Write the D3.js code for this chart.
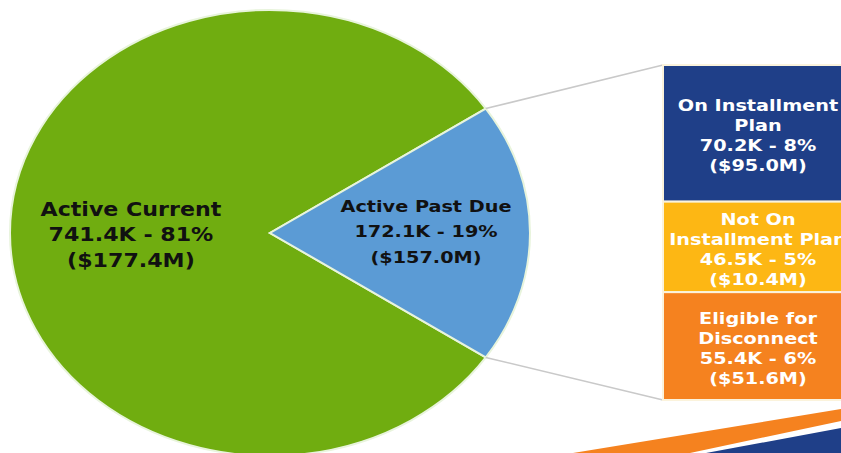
<!DOCTYPE html>
<html>
<head>
<meta charset="utf-8">
<script src="https://cdn.jsdelivr.net/npm/d3@7"></script>
<style>
  html, body { margin: 0; padding: 0; background: #fff; }
  svg { display: block; font-family: "DejaVu Sans", Verdana, sans-serif; font-weight: bold; }
</style>
</head>
<body>
<svg id="chart" width="841" height="453"></svg>
<script>
// pie slices
var pieLabels = ["Active Current", "Active Past Due"];
var pieCounts = [741.4, 172.1];      // thousands of accounts
var piePct = ["81%", "19%"];
var pieDollars = ["$177.4M", "$157.0M"];
var pieColors = ["#70ad10", "#5b9bd5"];

// breakdown of "Active Past Due"
var barLabels = [["On Installment", "Plan"], ["Not On", "Installment Plan"], ["Eligible for", "Disconnect"]];
var barCounts = [70.2, 46.5, 55.4];
var barPct = ["8%", "5%", "6%"];
var barDollars = ["$95.0M", "$10.4M", "$51.6M"];
var barColors = ["#1f3f88", "#fdb714", "#f5821f"];

var svg = d3.select("#chart");

// the whole slide was stretched sideways, pie and text alike
var cx = 270, cy = 233, ry = 223, rx = 260;
var sx = rx / ry;

var total = d3.sum(pieCounts);
var halfPast = pieCounts[1] / total * Math.PI;   // half the past-due angle
var a0 = Math.PI / 2 + halfPast;

var pie = d3.pie().sort(null).startAngle(a0).endAngle(a0 + 2 * Math.PI);
var arcs = pie(pieCounts);
var arc = d3.arc().innerRadius(0).outerRadius(ry);

var pieG = svg.append("g").attr("transform", "translate(" + cx + "," + cy + ") scale(" + sx + ",1)");
pieG.selectAll("path")
  .data(arcs)
  .enter().append("path")
  .attr("d", arc)
  .attr("fill", function(d, i) { return pieColors[i]; })
  .attr("stroke", "#e8f4dc")
  .attr("stroke-width", 2)
  .attr("vector-effect", "non-scaling-stroke");

// bar on the right
var barX0 = 663, barX1 = 855;
var y = d3.scaleLinear().domain([0, d3.sum(barCounts)]).range([65, 400]);
var stackTop = [];
var acc = 0;
barCounts.forEach(function(v) { stackTop.push(acc); acc += v; });

// connector lines from the slice edges to the bar corners
function edgePoint(a) {
  return [cx + rx * Math.sin(a), cy - ry * Math.cos(a)];
}
var pTop = edgePoint(arcs[1].startAngle);
var pBot = edgePoint(arcs[1].endAngle);
svg.append("line")
  .attr("x1", pTop[0]).attr("y1", pTop[1])
  .attr("x2", barX0).attr("y2", y(0))
  .attr("stroke", "#c9c9c9").attr("stroke-width", 1.5);
svg.append("line")
  .attr("x1", pBot[0]).attr("y1", pBot[1])
  .attr("x2", barX0).attr("y2", y(acc))
  .attr("stroke", "#c9c9c9").attr("stroke-width", 1.5);

var seg = svg.selectAll("g.seg")
  .data(barCounts)
  .enter().append("g")
  .attr("class", "seg");

seg.append("rect")
  .attr("x", barX0)
  .attr("y", function(d, i) { return y(stackTop[i]); })
  .attr("width", barX1 - barX0)
  .attr("height", function(d) { return y(d) - y(0); })
  .attr("fill", function(d, i) { return barColors[i]; })
  .attr("stroke", "#fbf3dc")
  .attr("stroke-width", 2);

seg.append("text")
  .attr("text-anchor", "middle")
  .attr("fill", "#fff")
  .attr("font-size", 16.5)
  .attr("transform", function(d, i) {
    var mid = (y(stackTop[i]) + y(stackTop[i] + d)) / 2;
    return "translate(758," + (mid - 22) + ") scale(" + sx + ",1)";
  })
  .each(function(d, i) {
    var t = d3.select(this);
    var lines = barLabels[i].concat([d.toFixed(1) + "K - " + barPct[i], "(" + barDollars[i] + ")"]);
    lines.forEach(function(s, k) {
      t.append("tspan").attr("x", 0).attr("y", k * 20).text(s);
    });
  });

// pie labels
var labelR = [0.535, 0.6];
var labelDy = [-17, -21];
var labelSize = [19, 16.5];
var pieText = svg.selectAll("text.pielbl")
  .data(arcs)
  .enter().append("text")
  .attr("class", "pielbl")
  .attr("text-anchor", "middle")
  .attr("fill", "#111")
  .attr("font-size", function(d, i) { return labelSize[i]; })
  .attr("transform", function(d, i) {
    var a = (d.startAngle + d.endAngle) / 2;
    var px = cx + rx * labelR[i] * Math.sin(a);
    var py = cy - ry * labelR[i] * Math.cos(a);
    return "translate(" + px + "," + (py + labelDy[i]) + ") scale(" + sx + ",1)";
  });
pieText.each(function(d, i) {
  var t = d3.select(this);
  var lines = [pieLabels[i], d.data.toFixed(1) + "K - " + piePct[i], "(" + pieDollars[i] + ")"];
  lines.forEach(function(s, k) {
    t.append("tspan").attr("x", 0).attr("y", k * 25.5).text(s);
  });
});

// slide decoration in the bottom right corner
svg.append("path")
  .attr("d", "M573,453 L841,409 L841,421 L690,453 Z")
  .attr("fill", "#f5821f");
svg.append("path")
  .attr("d", "M706,453 L841,428 L841,453 Z")
  .attr("fill", "#1f3f88");
</script>
</body>
</html>
